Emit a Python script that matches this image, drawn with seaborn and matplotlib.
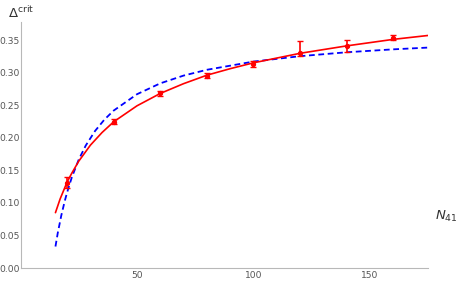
import numpy as np
import pandas as pd
import matplotlib
matplotlib.use('Agg')
import matplotlib.pyplot as plt
import seaborn as sns
from matplotlib.ticker import MultipleLocator, FixedLocator, FormatStrFormatter

# puntos medidos (N41, Delta crit) con barras de error
n_puntos = [20, 40, 60, 80, 100, 120, 140, 160]
delta_puntos = [0.131, 0.2245, 0.268, 0.2955, 0.3135, 0.3295, 0.341, 0.3535]
err_abajo = [0.008, 0.004, 0.004, 0.004, 0.005, 0.004, 0.009, 0.004]
err_arriba = [0.008, 0.004, 0.004, 0.004, 0.005, 0.019, 0.009, 0.004]

# curva roja (ajuste continuo)
n_rojo = [15, 17, 20, 22, 25, 30, 35, 40, 50, 60, 70, 80, 90, 100, 120, 140, 160, 175]
delta_rojo = [0.085, 0.106, 0.132, 0.1455, 0.164, 0.1886, 0.208, 0.2245, 0.249, 0.268,
              0.283, 0.296, 0.306, 0.315, 0.3296, 0.341, 0.351, 0.357]

# curva azul (discontinua)
n_azul = [15, 16, 17.5, 19, 20, 22, 25, 28, 32, 36, 40, 50, 60, 70, 80, 100, 120, 140, 160, 175]
delta_azul = [0.033, 0.054, 0.0806, 0.103, 0.116, 0.139, 0.1665, 0.188, 0.2104, 0.2278,
              0.2417, 0.2668, 0.2835, 0.2954, 0.3043, 0.3169, 0.3252, 0.3312, 0.3357, 0.3384]

sns.set_style('white')
plt.rcParams['font.family'] = ['DejaVu Sans']

fig = plt.figure(figsize=(4.57, 2.84), dpi=100)
ax = fig.add_axes([0.0449, 0.0563, 0.892, 0.867])

df_rojo = pd.DataFrame({'N': n_rojo, 'delta': delta_rojo})
df_azul = pd.DataFrame({'N': n_azul, 'delta': delta_azul})

sns.lineplot(data=df_azul, x='N', y='delta', ax=ax, color='#0000ff', lw=1.3,
             linestyle=(0, (3.2, 2.0)), sort=True)
sns.lineplot(data=df_rojo, x='N', y='delta', ax=ax, color='#ff0000', lw=1.2, sort=True)
ax.errorbar(n_puntos, delta_puntos, yerr=[err_abajo, err_arriba], fmt='o', color='#ff0000',
            ms=2.8, elinewidth=1.2, capsize=2.2, capthick=1.0, zorder=5)

ax.set_xlim(0, 175)
ax.set_ylim(0, 0.378)
ax.set_xlabel('')
ax.set_ylabel('')

for lado in ['top', 'right']:
    ax.spines[lado].set_visible(False)
for lado in ['left', 'bottom']:
    ax.spines[lado].set_color('#b8b8b8')
    ax.spines[lado].set_linewidth(0.8)

ax.xaxis.set_major_locator(FixedLocator([50, 100, 150]))
ax.xaxis.set_minor_locator(FixedLocator([10, 20, 30, 40, 60, 70, 80, 90, 110, 120, 130, 140, 160, 170]))
ax.yaxis.set_major_locator(MultipleLocator(0.05))
ax.yaxis.set_minor_locator(MultipleLocator(0.01))
ax.yaxis.set_major_formatter(FormatStrFormatter('%.2f'))

ax.tick_params(which='major', direction='in', length=4, width=0.7, color='#b8b8b8',
               labelsize=6.6, labelcolor='#555555', pad=2)
ax.tick_params(which='minor', direction='in', length=2, width=0.6, color='#c8c8c8')
ax.tick_params(axis='y', which='major', pad=0.8)

fig.text(0.018, 0.935, r'$\Delta^{\mathrm{crit}}$', fontsize=9.5, color='#333333')
fig.text(0.951, 0.225, r'$N_{41}$', fontsize=9.5, color='#333333')

fig.savefig('out.png', dpi=100)
